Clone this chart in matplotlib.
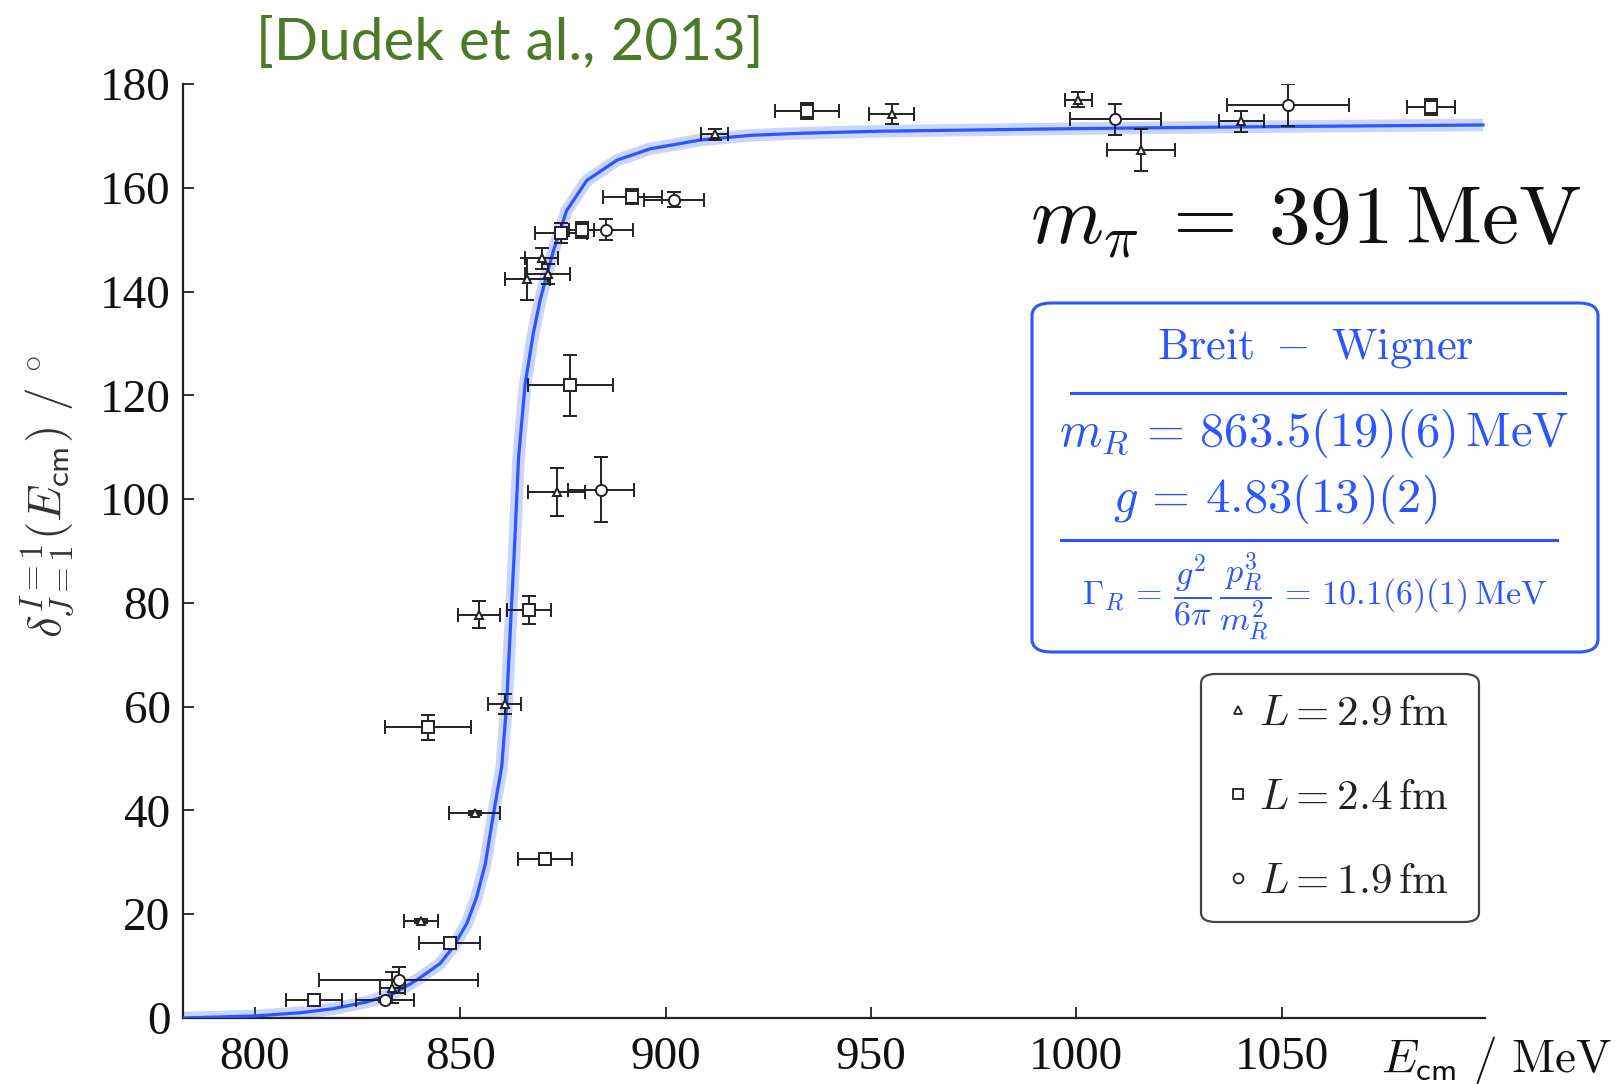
import matplotlib
matplotlib.use('Agg')
import matplotlib.pyplot as plt
from matplotlib.lines import Line2D
from matplotlib.patches import FancyBboxPatch

plt.rcParams['mathtext.fontset'] = 'cm'

# ---------------- data ----------------
# L = 2.9 fm (triangles)
tri_E = [912.0, 955.0, 1000.5, 1015.8, 1040.2, 869.8, 871.3, 866.3, 873.5, 854.5, 860.8, 853.5, 840.5, 833.5]
tri_dE = [3.3, 5.5, 3.3, 8.3, 5.5, 4.0, 5.5, 5.5, 6.9, 5.1, 4.1, 6.3, 4.1, 3.0]
tri_d = [170.3, 174.2, 177.0, 167.3, 172.8, 146.4, 143.4, 142.4, 101.4, 77.7, 60.5, 39.5, 18.7, 5.8]
tri_dd = [1.0, 2.0, 1.5, 4.0, 2.0, 2.0, 2.0, 4.0, 4.6, 2.6, 1.9, 0.4, 0.4, 3.0]

# L = 2.4 fm (squares)
sq_E = [934.4, 1086.3, 891.9, 874.5, 879.6, 876.8, 866.8, 842.2, 870.6, 847.4, 814.4]
sq_dE = [7.8, 5.8, 7.2, 6.3, 3.0, 10.3, 5.3, 10.4, 6.5, 7.4, 6.9]
sq_d = [174.8, 175.6, 158.3, 151.3, 151.9, 121.9, 78.7, 56.0, 30.6, 14.5, 3.5]
sq_dd = [1.5, 1.5, 1.5, 2.0, 1.5, 5.8, 2.7, 2.4, 0.4, 0.4, 0.4]

# L = 1.9 fm (circles)
ci_E = [1009.5, 1051.5, 902.0, 885.4, 884.3, 835.0, 831.7]
ci_dE = [11.0, 14.8, 7.3, 6.7, 8.1, 19.4, 7.0]
ci_d = [173.2, 176.0, 157.7, 151.9, 101.8, 7.3, 3.5]
ci_dd = [3.0, 4.0, 1.5, 2.0, 6.3, 2.5, 0.4]

# Breit-Wigner fit curve
bw_E = [782.5, 800.0, 811.0, 819.1, 827.3, 833.7, 839.4, 845.1, 848.3, 851.6, 854.0,
        856.1, 858.1, 860.1, 861.3, 862.2, 863.2, 864.2, 865.8, 867.8, 869.5, 871.0,
        872.7, 875.9, 880.8, 888.1, 896.2, 908.4, 920.5, 932.7, 952.0, 1000.0, 1050.0, 1099.0]
bw_d = [0.0, 0.4, 1.0, 1.8, 3.1, 4.7, 7.3, 10.5, 13.7, 18.2, 23.3,
        29.7, 39.4, 48.4, 60.6, 75.0, 90.5, 108.0, 122.2, 132.0, 138.5, 143.0,
        147.9, 155.6, 161.4, 165.3, 167.5, 169.2, 170.1, 170.5, 170.9, 171.4, 171.8, 172.1]

x_ticks = [800, 850, 900, 950, 1000, 1050]
y_ticks = [0, 20, 40, 60, 80, 100, 120, 140, 160, 180]

legend_labels = [r'$L = 2.9\,\mathrm{fm}$', r'$L = 2.4\,\mathrm{fm}$', r'$L = 1.9\,\mathrm{fm}$']
title_text = '[Dudek et al., 2013]'
mpi_text = r'$m_\pi\:=\:391\,\mathrm{MeV}$'
bw_title = r'$\mathrm{Breit}\ -\ \mathrm{Wigner}$'
bw_mass = r'$m_R\,=\,863.5(19)(6)\,\mathrm{MeV}$'
bw_g = r'$g\,=\,4.83(13)(2)$'
bw_gamma = r'$\Gamma_R\,=\,\dfrac{g^2}{6\pi}\,\dfrac{p_R^3}{m_R^2}\,=\,10.1(6)(1)\,\mathrm{MeV}$'

# ---------------- figure ----------------
W, H = 1620, 1084
fig = plt.figure(figsize=(W / 100, H / 100), dpi=100)

def fx(px):
    return px / W

def fy(py):
    return 1 - py / H

ax = fig.add_axes([fx(183), fy(1018), (1485 - 183) / W, (1018 - 84) / H])
ax.set_xlim(782.5, 1099.5)
ax.set_ylim(0, 180)

blue = '#2a55ff'
ink = '#222222'

ax.plot(bw_E, bw_d, color=blue, lw=9, alpha=0.25, solid_capstyle='butt',
        solid_joinstyle='round', zorder=2)
ax.plot(bw_E, bw_d, color=blue, lw=2.3, solid_joinstyle='round', zorder=3)

common = dict(ls='none', ecolor=ink, elinewidth=1.4, capsize=5, capthick=1.4,
              mfc='white', mec=ink, mew=1.4, zorder=4)
ax.errorbar(tri_E, tri_d, xerr=tri_dE, yerr=tri_dd, marker='^', ms=6, **common)
ax.errorbar(sq_E, sq_d, xerr=sq_dE, yerr=sq_dd, marker='s', ms=8, **common)
ax.errorbar(ci_E, ci_d, xerr=ci_dE, yerr=ci_dd, marker='o', ms=8, **common)

for s in ['top', 'right']:
    ax.spines[s].set_visible(False)
for s in ['left', 'bottom']:
    ax.spines[s].set_color(ink)
    ax.spines[s].set_linewidth(1.6)

ax.set_xticks(x_ticks)
ax.set_yticks(y_ticks)
ax.tick_params(direction='in', length=8, width=1.3, color=ink)
ax.tick_params(axis='x', pad=13)
ax.tick_params(axis='y', pad=9)
for lab in ax.get_xticklabels() + ax.get_yticklabels():
    lab.set_fontfamily('Liberation Serif')
    lab.set_fontsize(34)
    lab.set_color('#111111')

# axis labels
fig.text(fx(1612), fy(1060), r'$E_{\mathsf{cm}}\ /\ \mathrm{MeV}$', ha='right', va='center',
         fontsize=34, color='#111111')
fig.text(fx(47), fy(496), r'$\delta^{I=1}_{J=1}(E_{\mathsf{cm}})\ /\ ^{\circ}$', rotation=90,
         ha='center', va='center', fontsize=34, color='#333333')

# title
fig.text(fx(256), fy(44), title_text, ha='left', va='center', fontsize=42,
         family='Lato', color='#4d7a28')

# m_pi
fig.text(fx(1582), fy(220), mpi_text, ha='right', va='center', fontsize=60, color='#111111')

# Breit-Wigner box
box = FancyBboxPatch((fx(1032), fy(652)), fx(1598) - fx(1032), fy(303) - fy(652),
                     boxstyle='round,pad=0,rounding_size=0.012', transform=fig.transFigure,
                     facecolor='white', edgecolor=blue, lw=2.2, zorder=5)
fig.patches.append(box)
fig.text(fx(1315), fy(349), bw_title, ha='center', va='center', fontsize=32, color=blue, zorder=6)
fig.lines.append(Line2D([fx(1071), fx(1565)], [fy(393), fy(393)], transform=fig.transFigure,
                        color=blue, lw=2.2, zorder=6))
fig.text(fx(1314), fy(433), bw_mass, ha='center', va='center', fontsize=35, color=blue, zorder=6)
fig.text(fx(1113), fy(499), bw_g, ha='left', va='center', fontsize=35, color=blue, zorder=6)
fig.lines.append(Line2D([fx(1061), fx(1557)], [fy(540), fy(540)], transform=fig.transFigure,
                        color=blue, lw=2.2, zorder=6))
fig.text(fx(1315), fy(597), bw_gamma, ha='center', va='center', fontsize=24.5, color=blue, zorder=6)

# legend frame (drawn separately so its size matches the reference)
lbox = FancyBboxPatch((fx(1201), fy(922)), fx(1479) - fx(1201), fy(674) - fy(922),
                      boxstyle='round,pad=0,rounding_size=0.009', transform=fig.transFigure,
                      facecolor='white', edgecolor='#444444', lw=1.6, zorder=4.5, clip_on=False)
ax.add_patch(lbox)

handles = [
    Line2D([], [], ls='none', marker='^', ms=6, mfc='white', mec=ink, mew=1.3),
    Line2D([], [], ls='none', marker='s', ms=7, mfc='white', mec=ink, mew=1.3),
    Line2D([], [], ls='none', marker='o', ms=7, mfc='white', mec=ink, mew=1.3),
]
leg = ax.legend(handles, legend_labels, loc='upper left', bbox_to_anchor=(0.781, 0.3687),
                borderaxespad=0, fontsize=31, handlelength=0.95, handletextpad=0.0,
                labelspacing=0.98, borderpad=0.42, frameon=False)
leg.set_zorder(6)
for t in leg.get_texts():
    t.set_color('#222222')

fig.savefig('out.png', dpi=100)
